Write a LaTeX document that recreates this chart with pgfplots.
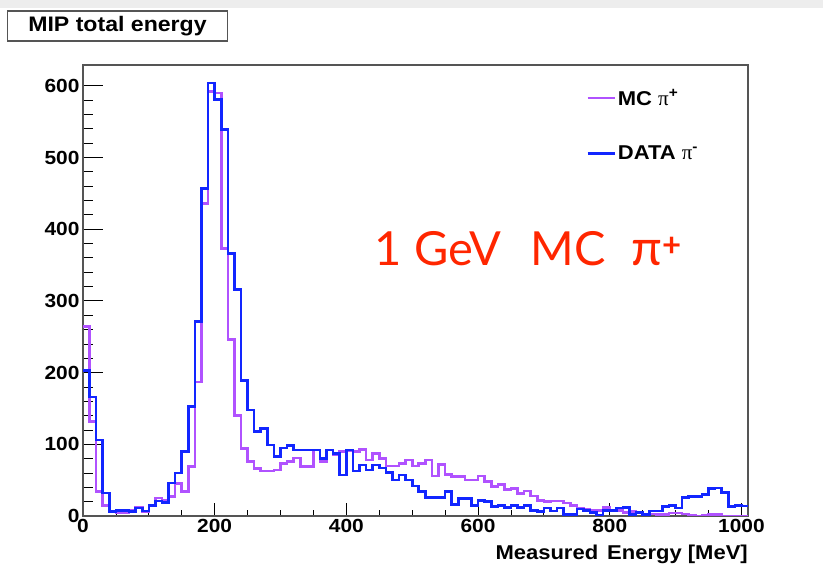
\documentclass[border=0pt]{standalone}
\usepackage{fontspec}
\setmainfont{Liberation Sans}[FakeStretch=1.1]
\newfontfamily\latofont{Lato}
\newfontfamily\symfont{Liberation Serif}
\usepackage{pgfplots}
\pgfplotsset{compat=1.18}
\definecolor{mcpurple}{RGB}{176,82,255}
\definecolor{datablue}{RGB}{18,38,255}
\definecolor{annot}{RGB}{255,38,0}
\definecolor{framegray}{RGB}{85,85,85}

\begin{document}
\begin{tikzpicture}[x=1pt,y=1pt]
\useasboundingbox (-83,-48) rectangle (740,516);
\fill[black!7] (-83,508) rectangle (740,516);
\begin{axis}[
  at={(0,0)}, anchor=south west,
  scale only axis, width=665pt, height=451pt,
  xmin=0, xmax=1010, ymin=0, ymax=629,
  xtick={0,200,...,1000}, ytick={0,100,...,600},
  minor x tick num=3, minor y tick num=4,
  xtick pos=left, ytick pos=left,
  tick align=inside,
  major tick length=20pt, minor tick length=10pt,
  xtick style={/pgfplots/major tick length=12.5pt,/pgfplots/minor tick length=6pt},
  every tick/.style={black, line width=0.8pt},
  axis line style={framegray, line width=1.2pt},
  /pgf/number format/assume math mode=true,
  /pgf/number format/1000 sep={},
  tick label style={font=\bfseries\fontsize{19}{19}\selectfont},
  xlabel={Measured\hspace{0.45em}Energy [MeV]},
  xlabel style={at={(rel axis cs:1,0)}, anchor=base east, yshift=-44pt, inner sep=0pt, font=\bfseries\fontsize{20}{20}\selectfont},
  legend style={draw=none, fill=none, at={(rel axis cs:0.752,0.955)}, anchor=north west,
    font=\bfseries\fontsize{20}{22}\selectfont, row sep=35pt},
  legend cell align=left,
  legend image code/.code={\draw[#1, line width=2.6pt] (0pt,0pt) -- (27pt,0pt);},
  const plot mark left,
]
\addplot[mcpurple, line width=2.6pt] coordinates {
(0,264)(10,132)(20,34)(30,15)(40,6)(50,4)(60,4)(70,8)(80,12)(90,6)
(100,15)(110,25)(120,22)(130,27)(140,45)(150,34)(160,69)(170,187)(180,436)(190,592)
(200,590)(210,373)(220,246)(230,140)(240,94)(250,76)(260,66)(270,63)(280,63)(290,64)
(300,73)(310,76)(320,81)(330,69)(340,69)(350,92)(360,76)(370,92)(380,85)(390,90)
(400,91)(410,90)(420,93)(430,78)(440,87)(450,80)(460,70)(470,70)(480,73)(490,78)
(500,70)(510,73)(520,78)(530,56)(540,72)(550,58)(560,55)(570,55)(580,50)(590,50)
(600,56)(610,48)(620,41)(630,44)(640,37)(650,38)(660,31)(670,35)(680,28)(690,22)
(700,20)(710,21)(720,21)(730,18)(740,15)(750,11)(760,9)(770,8)(780,8)(790,12)
(800,8)(810,8)(820,5)(830,6)(840,4)(850,3)(860,3)(870,2)(880,2)(890,4)
(900,4)(910,3)(920,1)(930,0)(940,1)(950,2)(960,2)(970,0)(980,0)(990,0)
(1000,0)(1010,0)
};
\addlegendentry{MC {\symfont\mdseries\fontsize{21}{21}\selectfont π}\textsuperscript{+}}
\addplot[datablue, line width=2.6pt] coordinates {
(0,203)(10,166)(20,106)(30,32)(40,6)(50,8)(60,8)(70,6)(80,11)(90,7)
(100,15)(110,21)(120,19)(130,46)(140,60)(150,90)(160,153)(170,271)(180,457)(190,604)
(200,581)(210,539)(220,366)(230,316)(240,189)(250,148)(260,118)(270,122)(280,99)(290,83)
(300,95)(310,98)(320,92)(330,92)(340,92)(350,92)(360,80)(370,92)(380,87)(390,57)
(400,92)(410,63)(420,71)(430,64)(440,71)(450,67)(460,61)(470,50)(480,57)(490,50)
(500,42)(510,34)(520,26)(530,26)(540,26)(550,34)(560,16)(570,24)(580,24)(590,15)
(600,22)(610,20)(620,13)(630,15)(640,12)(650,15)(660,12)(670,15)(680,8)(690,6)
(700,11)(710,7)(720,11)(730,2)(740,2)(750,10)(760,8)(770,5)(780,1)(790,8)
(800,8)(810,11)(820,12)(830,2)(840,5)(850,2)(860,7)(870,7)(880,13)(890,15)
(900,11)(910,26)(920,27)(930,27)(940,30)(950,38)(960,39)(970,33)(980,13)(990,15)
(1000,14)(1010,14)
};
\addlegendentry{DATA {\symfont\mdseries\fontsize{21}{21}\selectfont π}\textsuperscript{-}}
\node[anchor=base west, text=annot, inner sep=0pt, font=\latofont\fontsize{47}{47}\selectfont]
  at (axis cs:443,350) {1 GeV\hspace{0.62em}MC\hspace{0.55em}{\latofont\fontsize{50}{50}\selectfont π}\textsuperscript{\textbf{+}}};
\end{axis}
\node[draw=framegray, line width=1.3pt, fill=white, minimum width=220pt, minimum height=30pt,
  inner sep=0pt, font=\bfseries\fontsize{21}{21}\selectfont] at (34.5,490) {MIP total energy};
\end{tikzpicture}
\end{document}
